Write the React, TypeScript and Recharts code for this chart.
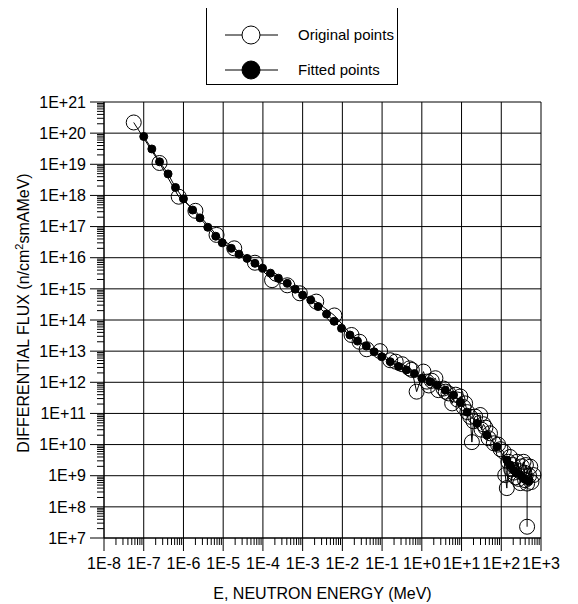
import { LineChart, Line, XAxis, YAxis, CartesianGrid, Legend, Label } from "recharts";

const FONT = "'Liberation Sans', Arial, sans-serif";

// decades shown on the axes
const xExponents = [-8, -7, -6, -5, -4, -3, -2, -1, 0, 1, 2, 3];
const xTickLabels = ["1E-8", "1E-7", "1E-6", "1E-5", "1E-4", "1E-3", "1E-2", "1E-1", "1E+0", "1E+1", "1E+2", "1E+3"];
const yExponents = [7, 8, 9, 10, 11, 12, 13, 14, 15, 16, 17, 18, 19, 20, 21];
const yTickLabels = ["1E+7", "1E+8", "1E+9", "1E+10", "1E+11", "1E+12", "1E+13", "1E+14", "1E+15", "1E+16", "1E+17", "1E+18", "1E+19", "1E+20", "1E+21"];
const minorSteps = [2, 3, 4, 5, 6, 7, 8, 9];

// original points (MeV, n/cm2 s mA MeV)
const origEnergy = [
  5.6e-8, 2.5e-7, 7.6e-7, 2.0e-6, 6.8e-6, 1.9e-5, 6.3e-5, 1.7e-4, 4.1e-4, 8.5e-4,
  2.2e-3, 6.3e-3, 1.7e-2, 2.7e-2, 4.1e-2, 8.9e-2, 0.16, 0.22, 0.32, 0.49,
  0.56, 0.74, 1.1, 1.35, 1.5, 1.78, 2.2, 2.6, 3.5, 4.0,
  4.7, 5.8, 7.1, 7.9, 9.3, 11.2, 12.3, 14, 16.6, 18.2,
  20, 22, 29.5, 32, 35.5, 40, 47.9, 52, 65, 83,
  95.5, 115, 126, 138, 151, 166, 178, 200, 209, 229,
  251, 275, 288, 302, 331, 363, 380, 417, 501, 537,
  575, 646, 398, 447, 447,
];
const origFlux = [
  2.2e20, 1.1e19, 9.1e17, 3.2e17, 5.4e16, 2.0e16, 6.9e15, 1.9e15, 1.3e15, 7.2e14,
  3.9e14, 1.4e14, 3.3e13, 2.0e13, 1.15e13, 1.0e13, 5.1e12, 4.6e12, 3.8e12, 2.8e12,
  2.5e12, 5.0e11, 2.2e12, 1.05e12, 7.9e11, 1.12e12, 1.35e12, 5.6e11, 6.3e11, 5.0e11,
  4.4e11, 2.1e11, 4.0e11, 2.8e11, 3.5e11, 1.6e11, 2.1e11, 1.1e11, 7.8e10, 1.2e10,
  5.6e10, 7.9e10, 8.9e10, 3.0e10, 4.5e10, 3.5e10, 1.6e10, 2.3e10, 1.1e10, 1.0e10,
  7.1e9, 5.9e9, 1.05e9, 4.0e8, 2.8e9, 4.0e9, 1.6e9, 2.2e9, 1.26e9, 8.9e8,
  2.8e9, 7.9e8, 1.4e9, 5.8e8, 2.0e9, 2.8e9, 1.26e9, 2.2e9, 1.0e9, 1.95e9,
  6.3e8, 1.05e9, 7.2e8, 5.6e8, 2.3e7,
];

// fitted points
const fitEnergy = [
  1.0e-7, 1.6e-7, 2.5e-7, 4.1e-7, 6.3e-7, 1.0e-6, 1.7e-6, 2.6e-6, 4.1e-6, 6.5e-6,
  9.5e-6, 1.6e-5, 2.5e-5, 4.0e-5, 6.3e-5, 9.8e-5, 1.55e-4, 2.45e-4, 4.1e-4, 6.5e-4,
  1.0e-3, 1.6e-3, 2.45e-3, 4.0e-3, 6.2e-3, 9.5e-3, 1.55e-2, 2.4e-2, 4.0e-2, 6.3e-2,
  9.8e-2, 0.16, 0.26, 0.41, 0.65, 1.0, 1.6, 2.45, 3.9, 6.3,
  9.3, 13.8, 24.5, 43.6, 77.6, 138, 166, 204, 251, 331,
  398, 490,
];
const fitFlux = [
  7.8e19, 3.1e19, 1.2e19, 4.9e18, 1.8e18, 7.8e17, 3.4e17, 1.9e17, 9.5e16, 4.9e16,
  3.0e16, 2.0e16, 1.3e16, 9.5e15, 6.6e15, 4.6e15, 3.2e15, 2.2e15, 1.5e15, 9.8e14,
  6.3e14, 4.4e14, 2.7e14, 1.55e14, 9.1e13, 5.4e13, 3.3e13, 2.1e13, 1.45e13, 9.5e12,
  6.6e12, 4.6e12, 3.2e12, 2.5e12, 1.9e12, 1.35e12, 1.05e12, 8.1e11, 5.6e11, 3.9e11,
  2.3e11, 1.1e11, 4.8e10, 2.0e10, 8.5e9, 3.2e9, 2.2e9, 1.5e9, 1.2e9, 9.3e8,
  7.6e8, 6.5e8,
];

const legendNames = ["Original points", "Fitted points"];

const originalData = origEnergy.map((e, i) => ({ e, flux: origFlux[i] }));
const fittedData = fitEnergy.map((e, i) => ({ e, flux: fitFlux[i] }));

const xMajor = xExponents.map((p) => Math.pow(10, p));
const yMajor = yExponents.map((p) => Math.pow(10, p));

// chart geometry
const W = 570;
const H = 596;
const M = { top: 94, right: 37, bottom: 0, left: 0 };
const Y_W = 96;
const X_H = 66;
const xStep = (W - M.left - M.right - Y_W) / (xExponents.length - 1);
const yStep = (H - M.top - M.bottom - X_H) / (yExponents.length - 1);

const decadeOf = (v: number) => Math.round(Math.log10(v));

function XTick(props: any) {
  const { x, y, payload, step } = props;
  const d = decadeOf(payload.value);
  const last = d === xExponents[xExponents.length - 1];
  return (
    <g>
      <line x1={x} y1={y} x2={x} y2={y + 13} stroke="#000" strokeWidth={1} />
      {!last &&
        minorSteps.map((m) => {
          const mx = x + Math.log10(m) * step;
          return <line key={m} x1={mx} y1={y} x2={mx} y2={y + 7} stroke="#000" strokeWidth={1} />;
        })}
      <text x={x} y={y + 31} textAnchor="middle" fontSize={16} fontFamily={FONT} fill="#000">
        {xTickLabels[xExponents.indexOf(d)]}
      </text>
    </g>
  );
}

function YTick(props: any) {
  const { x, y, payload, step } = props;
  const d = decadeOf(payload.value);
  const last = d === yExponents[yExponents.length - 1];
  return (
    <g>
      <line x1={x} y1={y} x2={x - 14} y2={y} stroke="#000" strokeWidth={1} />
      {!last &&
        minorSteps.map((m) => {
          const my = y - Math.log10(m) * step;
          return <line key={m} x1={x} y1={my} x2={x - 7} y2={my} stroke="#000" strokeWidth={1} />;
        })}
      <text x={x - 18} y={y} dy="0.36em" textAnchor="end" fontSize={16} fontFamily={FONT} fill="#000">
        {yTickLabels[yExponents.indexOf(d)]}
      </text>
    </g>
  );
}

function XTitle(props: any) {
  const { viewBox } = props;
  return (
    <text x={viewBox.x + viewBox.width / 2} y={viewBox.y + 61} textAnchor="middle" fontSize={16} fontFamily={FONT} fill="#000">
      E, NEUTRON ENERGY (MeV)
    </text>
  );
}

function YTitle(props: any) {
  const { viewBox } = props;
  const cx = 20.5;
  const cy = viewBox.y + viewBox.height / 2 - 7;
  return (
    <text x={cx} y={cy} transform={`rotate(-90, ${cx}, ${cy})`} textAnchor="middle" fontSize={16} fontFamily={FONT} fill="#000">
      DIFFERENTIAL FLUX (n/cm
      <tspan dy={-6} fontSize={11}>2</tspan>
      <tspan dy={6}>smAMeV)</tspan>
    </text>
  );
}

function LegendBox() {
  return (
    <div style={{ width: 190, height: 76, border: "1px solid #000", background: "#fff" }}>
      <svg width={190} height={76}>
        <line x1={18} y1={27} x2={71} y2={27} stroke="#000" />
        <circle cx={44} cy={27} r={9} fill="#fff" stroke="#000" />
        <text x={91} y={27} dy="0.36em" fontSize={15} fontFamily={FONT}>{legendNames[0]}</text>
        <line x1={18} y1={62} x2={71} y2={62} stroke="#000" />
        <circle cx={44} cy={62} r={9} fill="#000" stroke="#000" />
        <text x={91} y={62} dy="0.36em" fontSize={15} fontFamily={FONT}>{legendNames[1]}</text>
      </svg>
    </div>
  );
}

export default function App() {
  return (
    <LineChart width={W} height={H} margin={M}>
      <CartesianGrid stroke="#000" strokeWidth={1} horizontalValues={yMajor} verticalValues={xMajor} />
      <XAxis
        dataKey="e"
        type="number"
        scale="log"
        domain={[1e-8, 1e3]}
        ticks={xMajor}
        interval={0}
        tick={<XTick step={xStep} />}
        tickLine={false}
        tickSize={0}
        tickMargin={0}
        height={X_H}
        axisLine={{ stroke: "#000" }}
      >
        <Label content={<XTitle />} />
      </XAxis>
      <YAxis
        dataKey="flux"
        type="number"
        scale="log"
        domain={[1e7, 1e21]}
        ticks={yMajor}
        interval={0}
        tick={<YTick step={yStep} />}
        tickLine={false}
        tickSize={0}
        tickMargin={0}
        width={Y_W}
        axisLine={{ stroke: "#000" }}
      >
        <Label content={<YTitle />} />
      </YAxis>
      <Legend
        layout="vertical"
        align="center"
        verticalAlign="middle"
        content={<LegendBox />}
        wrapperStyle={{ position: "absolute", left: 198, top: -1, width: 192, height: 78 }}
      />
      <Line
        data={originalData}
        dataKey="flux"
        name={legendNames[0]}
        stroke="#000"
        strokeWidth={1}
        dot={{ r: 7.5, fill: "none", stroke: "#000", strokeWidth: 1 }}
        isAnimationActive={false}
      />
      <Line
        data={fittedData}
        dataKey="flux"
        name={legendNames[1]}
        stroke="#000"
        strokeWidth={1}
        dot={{ r: 4, fill: "#000", stroke: "#000", strokeWidth: 1 }}
        isAnimationActive={false}
      />
    </LineChart>
  );
}
